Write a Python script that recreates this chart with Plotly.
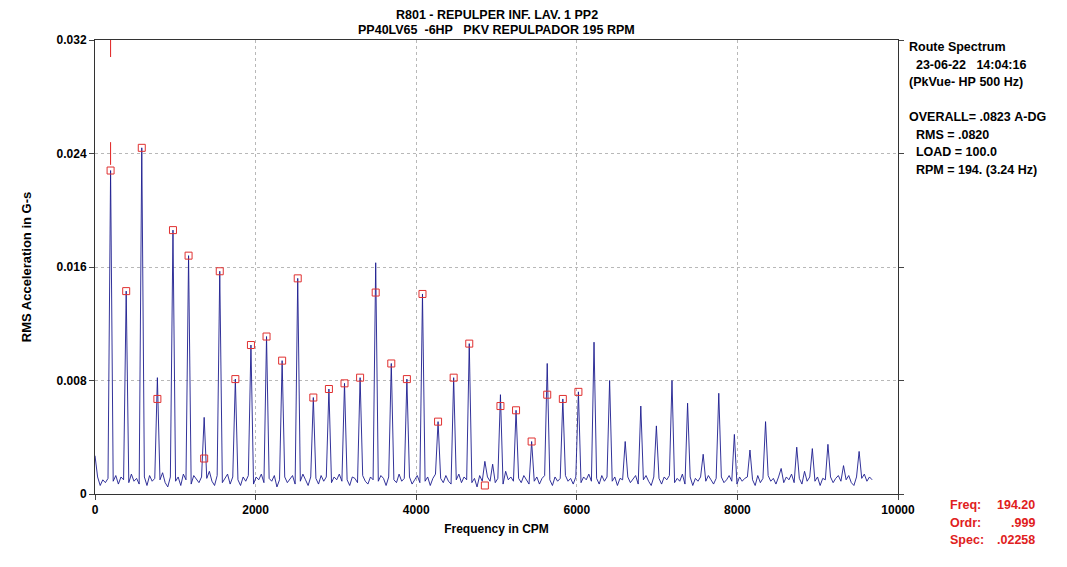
import plotly.graph_objects as go

RPM_CPM = 194.2
# line peak amplitudes at harmonics 1..49 (G-s)
peak_vals = [0.0228, 0.0143, 0.0244, 0.0082, 0.0186, 0.0168, 0.0054, 0.0157, 0.0081, 0.0105,
             0.0111, 0.0094, 0.0152, 0.0068, 0.0074, 0.0078, 0.0082, 0.0163, 0.0092, 0.0081,
             0.0141, 0.0051, 0.0082, 0.0106, 0.0023, 0.0070, 0.0059, 0.0037, 0.0092, 0.0067,
             0.0072, 0.0107, 0.0080, 0.0037, 0.0062, 0.0048, 0.0080, 0.0064, 0.0028, 0.0071,
             0.0042, 0.0031, 0.0051, 0.0018, 0.0033, 0.0032, 0.0035, 0.0020, 0.0030]
# marker amplitudes at harmonics 1..31
marker_vals = [0.0228, 0.0143, 0.0244, 0.0067, 0.0186, 0.0168, 0.0025, 0.0157, 0.0081, 0.0105,
               0.0111, 0.0094, 0.0152, 0.0068, 0.0074, 0.0078, 0.0082, 0.0142, 0.0092, 0.0081,
               0.0141, 0.0051, 0.0082, 0.0106, 0.0006, 0.0062, 0.0059, 0.0037, 0.0070, 0.0067,
               0.0072]
# noise floor, 5 values between consecutive harmonics (first group: start at 0 CPM)
noise_vals = [
    0.0027, 0.0012, 0.0006, 0.0010, 0.0008, 0.0011,
    0.0009, 0.0013, 0.0007, 0.0012, 0.0010,
    0.0008, 0.0014, 0.0009, 0.0011, 0.0007,
    0.0012, 0.0006, 0.0013, 0.0009, 0.0011,
    0.0010, 0.0015, 0.0008, 0.0005, 0.0012,
    0.0009, 0.0012, 0.0006, 0.0014, 0.0010,
    0.0007, 0.0013, 0.0010, 0.0008, 0.0012,
    0.0011, 0.0016, 0.0009, 0.0006, 0.0013,
    0.0008, 0.0011, 0.0014, 0.0007, 0.0012,
    0.0010, 0.0006, 0.0012, 0.0009, 0.0013,
    0.0007, 0.0012, 0.0010, 0.0014, 0.0008,
    0.0011, 0.0009, 0.0013, 0.0005, 0.0010,
    0.0012, 0.0008, 0.0011, 0.0013, 0.0007,
    0.0009, 0.0014, 0.0010, 0.0006, 0.0012,
    0.0011, 0.0007, 0.0013, 0.0009, 0.0012,
    0.0008, 0.0012, 0.0010, 0.0014, 0.0009,
    0.0010, 0.0006, 0.0012, 0.0011, 0.0008,
    0.0013, 0.0009, 0.0007, 0.0012, 0.0010,
    0.0009, 0.0013, 0.0011, 0.0006, 0.0012,
    0.0010, 0.0008, 0.0014, 0.0009, 0.0011,
    0.0012, 0.0007, 0.0010, 0.0013, 0.0008,
    0.0009, 0.0012, 0.0006, 0.0011, 0.0014,
    0.0011, 0.0008, 0.0013, 0.0009, 0.0007,
    0.0010, 0.0014, 0.0008, 0.0012, 0.0010,
    0.0008, 0.0011, 0.0005, 0.0013, 0.0009,
    0.0012, 0.0009, 0.0021, 0.0008, 0.0011,
    0.0007, 0.0016, 0.0010, 0.0012, 0.0009,
    0.0011, 0.0008, 0.0013, 0.0010, 0.0007,
    0.0009, 0.0012, 0.0007, 0.0011, 0.0013,
    0.0010, 0.0006, 0.0012, 0.0009, 0.0011,
    0.0013, 0.0009, 0.0011, 0.0007, 0.0012,
    0.0008, 0.0012, 0.0010, 0.0014, 0.0009,
    0.0011, 0.0007, 0.0013, 0.0009, 0.0012,
    0.0009, 0.0012, 0.0006, 0.0011, 0.0010,
    0.0012, 0.0008, 0.0011, 0.0013, 0.0007,
    0.0010, 0.0013, 0.0009, 0.0006, 0.0012,
    0.0011, 0.0007, 0.0012, 0.0010, 0.0013,
    0.0008, 0.0011, 0.0009, 0.0014, 0.0007,
    0.0012, 0.0006, 0.0011, 0.0009, 0.0012,
    0.0009, 0.0013, 0.0010, 0.0007, 0.0011,
    0.0012, 0.0008, 0.0010, 0.0013, 0.0009,
    0.0007, 0.0012, 0.0009, 0.0011, 0.0012,
    0.0010, 0.0006, 0.0013, 0.0008, 0.0011,
    0.0013, 0.0009, 0.0011, 0.0007, 0.0012,
    0.0008, 0.0012, 0.0010, 0.0014, 0.0008,
    0.0011, 0.0007, 0.0016, 0.0009, 0.0012,
    0.0009, 0.0012, 0.0006, 0.0011, 0.0010,
    0.0012, 0.0008, 0.0011, 0.0013, 0.0009,
    0.0010, 0.0013, 0.0008, 0.0006, 0.0012,
    0.0011, 0.0014, 0.0009, 0.0012, 0.0010,
    0.0008, 0.0011,
]

# assemble spectrum line: 6 bins per harmonic spacing
freqs, amps = [], []
ni = 0
k = 0
while True:
    if k % 6 == 0 and k > 0:
        n = k // 6
        if n > len(peak_vals):
            break
        val = peak_vals[n - 1]
    else:
        if ni >= len(noise_vals):
            break
        val = noise_vals[ni]
        ni += 1
    freqs.append(k * RPM_CPM / 6)
    amps.append(val)
    k += 1

# page offset (browser body margin) compensation
OFF = 8
W, H = 1067 - OFF, 567 - OFF
L, R, T, B = 95 - OFF, 169, 40 - OFF, 73
PW, PH = W - L - R, H - T - B


def px(xp):
    return (xp - 95) / PW


def py(yp):
    return (494 - yp) / PH


fig = go.Figure()
fig.add_trace(go.Scatter(x=freqs, y=amps, mode="lines",
                         line=dict(color="#1c1c8f", width=0.9), hoverinfo="skip"))
mx = [RPM_CPM * (i + 1) for i in range(len(marker_vals))]
fig.add_trace(go.Scatter(x=mx, y=marker_vals, mode="markers",
                         marker=dict(symbol="square-open", size=7, color="#e03030", line=dict(width=1, color="#e03030")),
                         hoverinfo="skip"))

red = "#e02020"
for y0, y1 in [(0.0308, 0.032), (0.0248, 0.0232)]:
    fig.add_shape(type="line", x0=RPM_CPM, x1=RPM_CPM, y0=y0, y1=y1, xref="x", yref="y",
                  line=dict(color=red, width=1))
fig.add_shape(type="line", x0=RPM_CPM, x1=RPM_CPM, y0=-0.0012, y1=0.0, xref="x", yref="y",
              line=dict(color=red, width=1))

font = "Liberation Sans, Arial, sans-serif"
fig.update_layout(
    width=W, height=H, paper_bgcolor="white", plot_bgcolor="white",
    margin=dict(l=L, r=R, t=T, b=B), showlegend=False,
    font=dict(family=font, size=12, color="black"),
    xaxis=dict(range=[0, 10000], tickvals=[0, 2000, 4000, 6000, 8000, 10000],
               ticktext=["<b>0</b>", "<b>2000</b>", "<b>4000</b>", "<b>6000</b>", "<b>8000</b>", "<b>10000</b>"],
               showgrid=True, gridcolor="#b8b8b8", griddash="dot", gridwidth=1,
               showline=True, linecolor="#333", mirror=True, ticks="outside", ticklen=5,
               tickfont=dict(size=12, family=font), zeroline=False,
               title=dict(text="<b>Frequency in CPM</b>", font=dict(size=12), standoff=8)),
    yaxis=dict(range=[0, 0.032], tickvals=[0, 0.008, 0.016, 0.024, 0.032],
               ticktext=["<b>0</b>", "<b>0.008</b>", "<b>0.016</b>", "<b>0.024</b>", "<b>0.032</b>"],
               showgrid=True, gridcolor="#b8b8b8", griddash="dot", gridwidth=1,
               showline=True, linecolor="#333", mirror="allticks", ticks="outside", ticklen=5,
               zeroline=False,
               title=dict(text="<b>RMS Acceleration in G-s</b>", font=dict(size=13), standoff=22)),
)

fig.add_annotation(text="<b>R801 - REPULPER INF. LAV. 1 PP2</b>", x=0.5, y=1, xref="paper", yref="paper",
                   xanchor="center", yanchor="bottom", yshift=16, showarrow=False, font=dict(size=12.5))
fig.add_annotation(text="<b>PP40LV65  -6HP   PKV REPULPADOR 195 RPM</b>".replace("  ", "&nbsp;&nbsp;"),
                   x=0.5, y=1, xref="paper", yref="paper",
                   xanchor="center", yanchor="bottom", yshift=1, showarrow=False, font=dict(size=12.5))

right_lines = ["Route Spectrum", "  23-06-22   14:04:16", "(PkVue- HP 500 Hz)", "",
               "OVERALL= .0823 A-DG", "  RMS = .0820", "  LOAD = 100.0", "  RPM = 194. (3.24 Hz)"]
for i, t in enumerate(right_lines):
    if t:
        fig.add_annotation(text="<b>" + t.replace(" ", "&nbsp;") + "</b>", x=px(907), y=py(47 + 17.5 * i),
                           xref="paper", yref="paper", showarrow=False, xanchor="left", yanchor="middle",
                           font=dict(size=12.5))

cur_labels = ["Freq:", "Ordr:", "Spec:"]
cur_vals = ["194.20", ".999", ".02258"]
for i, (l, v) in enumerate(zip(cur_labels, cur_vals)):
    yp = py(505 + 17.5 * i)
    fig.add_annotation(text="<b>" + l + "</b>", x=px(948), y=yp, xref="paper", yref="paper",
                       showarrow=False, xanchor="left", yanchor="middle", font=dict(size=12.5, color=red))
    fig.add_annotation(text="<b>" + v + "</b>", x=px(1037), y=yp, xref="paper", yref="paper",
                       showarrow=False, xanchor="right", yanchor="middle", font=dict(size=12.5, color=red))

fig.write_html("out.html")
